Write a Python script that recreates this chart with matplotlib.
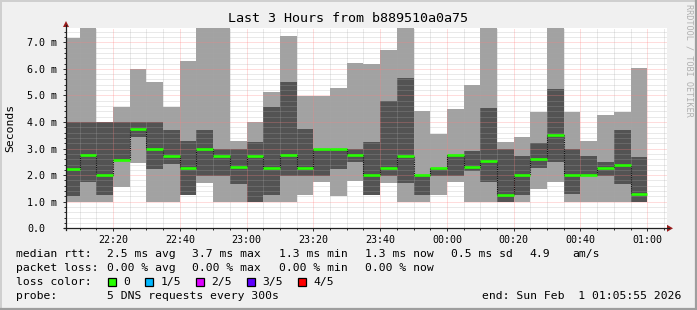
import numpy as np
import matplotlib
matplotlib.use("Agg")
import matplotlib.pyplot as plt
from matplotlib.patches import Rectangle, Polygon
from matplotlib.ticker import FixedLocator, MultipleLocator

W, H = 697, 310
MONO = "DejaVu Sans Mono"

# ---------------- data ----------------
view_start_label = "22:05:55"
view_end_label = "01:05:55"
bar_end_labels = ["22:10", "22:15", "22:20", "22:25", "22:30", "22:35", "22:40",
                  "22:45", "22:50", "22:55", "23:00", "23:05", "23:10", "23:15",
                  "23:20", "23:25", "23:30", "23:35", "23:40", "23:45", "23:50",
                  "23:55", "00:00", "00:05", "00:10", "00:15", "00:20", "00:25",
                  "00:30", "00:35", "00:40", "00:45", "00:50", "00:55", "01:00"]
# sorted ping values per 5-minute round (ms)
ping_max = [7.17, 8.00, 4.00, 4.58, 6.00, 5.51, 4.58, 6.30, 8.00, 8.00, 3.29, 4.00,
            5.13, 7.24, 4.99, 4.99, 5.27, 6.22, 6.18, 6.71, 8.00, 4.41, 3.56, 4.49,
            5.39, 8.00, 3.26, 3.44, 4.38, 8.00, 4.38, 3.29, 4.26, 4.38, 6.02]
ping_hi = [4.00, 4.00, 4.00, 4.00, 4.00, 4.00, 3.69, 3.29, 3.69, 2.98, 2.98, 3.24,
           4.57, 5.51, 3.74, 3.00, 3.00, 3.00, 3.25, 4.79, 5.64, 2.00, 2.26, 2.76,
           2.91, 4.53, 2.98, 2.72, 3.21, 5.24, 2.98, 2.72, 2.48, 3.70, 2.68]
ping_med = [2.23, 2.77, 1.99, 2.58, 3.73, 3.00, 2.71, 2.28, 3.00, 2.73, 2.30, 2.72,
            2.28, 2.76, 2.26, 3.00, 3.00, 2.76, 1.99, 2.28, 2.73, 1.99, 2.26, 2.75,
            2.30, 2.53, 1.25, 1.99, 2.60, 3.51, 1.99, 1.99, 2.26, 2.38, 1.30]
ping_lo = [1.22, 1.75, 1.25, 2.58, 3.44, 2.23, 2.43, 1.25, 1.97, 1.97, 1.67, 1.00,
           1.25, 1.97, 1.97, 1.97, 2.23, 2.50, 1.25, 1.97, 1.70, 1.25, 1.97, 1.97,
           2.17, 1.75, 1.00, 1.25, 2.28, 2.51, 1.30, 1.97, 1.97, 1.67, 1.00]
ping_min = [1.00, 1.00, 1.00, 1.55, 2.46, 1.00, 1.00, 1.25, 1.70, 1.00, 1.00, 1.00,
            1.00, 1.00, 1.25, 1.75, 1.22, 1.78, 1.25, 1.70, 1.00, 1.00, 1.25, 1.75,
            1.00, 1.00, 1.00, 1.00, 1.48, 1.75, 1.00, 1.00, 1.00, 1.00, 1.00]

x_tick_labels = ["22:20", "22:40", "23:00", "23:20", "23:40", "00:00", "00:20", "00:40", "01:00"]
y_tick_values = [0, 1, 2, 3, 4, 5, 6, 7]
y_tick_labels = ["0.0", "1.0 m", "2.0 m", "3.0 m", "4.0 m", "5.0 m", "6.0 m", "7.0 m"]

title = "Last 3 Hours from b889510a0a75"
y_label = "Seconds"
legend_rows = [
    [("median rtt:", 16), ("2.5 ms avg", 106.7), ("3.7 ms max", 192.4), ("1.3 ms min", 279),
     ("1.3 ms now", 365), ("0.5 ms sd", 451), ("4.9", 529), ("am/s", 572)],
    [("packet loss:", 16), ("0.00 % avg", 106.7), ("0.00 % max", 192.4), ("0.00 % min", 279),
     ("0.00 % now", 365)],
]
loss_labels = ["0", "1/5", "2/5", "3/5", "4/5"]
loss_colors = ["#26ff00", "#00b8ff", "#dd00ff", "#5e00ff", "#ff0000"]
probe_text = "5 DNS requests every 300s"
end_text = "end: Sun Feb  1 01:05:55 2026"


def to_min(lbl):
    parts = [int(p) for p in lbl.split(":")]
    h, m = parts[0], parts[1]
    s = parts[2] if len(parts) > 2 else 0
    if h < 12:
        h += 24
    return (h - 22) * 60 + m + s / 60.0


x0 = to_min(view_start_label)
x1 = to_min(view_end_label)
ends = np.array([to_min(l) for l in bar_end_labels])
starts = np.concatenate([[x0], ends[:-1]])
widths = ends - starts

# ---------------- figure ----------------
fig = plt.figure(figsize=(W / 100, H / 100), dpi=100)
fig.patch.set_facecolor("#f0f0f0")

left_px, right_px, top_px, bot_px = 66, 667, 28, 228.3
ax = fig.add_axes([left_px / W, (H - bot_px) / H, (right_px - left_px) / W, (bot_px - top_px) / H])
ax.set_facecolor("white")
ax.set_xlim(x0, x1)
ax.set_ylim(0, (bot_px - top_px) / ((bot_px - 42.3) / 7.0))

light = "#a2a2a2"
dark = "#535353"
pmax = np.array(ping_max); phi = np.array(ping_hi); pmed = np.array(ping_med)
plo = np.array(ping_lo); pmin = np.array(ping_min)
ax.bar(starts, pmax - pmin, width=widths, bottom=pmin, align="edge", color=light,
       linewidth=0, zorder=1)
ax.bar(starts, phi - plo, width=widths, bottom=plo, align="edge", color=dark,
       linewidth=0, zorder=1.1)

# median: dotted dark step line + green segments
step_x = np.concatenate([starts, [ends[-1]]])
step_y = np.concatenate([pmed, [pmed[-1]]])
ax.step(step_x, step_y, where="post", color="#101010", lw=0.8,
        linestyle=(0, (1, 1)), zorder=3)
ax.hlines(pmed, starts, ends, colors=loss_colors[0], lw=1.9, zorder=3.2)

# grid
ax.set_axisbelow(False)
ax.xaxis.set_major_locator(FixedLocator([to_min(l) for l in x_tick_labels]))
ax.set_xticklabels(x_tick_labels)
ax.xaxis.set_minor_locator(FixedLocator(np.arange(10, x1, 5)))
ax.yaxis.set_major_locator(FixedLocator(y_tick_values))
ax.set_yticklabels(y_tick_labels)
ax.yaxis.set_minor_locator(MultipleLocator(0.2))
ax.grid(which="major", color="#ff8080", alpha=0.55, lw=0.72, linestyle=(0, (1, 1)))
ax.grid(which="minor", color="#a8a8a8", alpha=0.5, lw=0.72, linestyle=(0, (1, 1)))
for sp in ax.spines.values():
    sp.set_visible(False)
ax.tick_params(which="major", direction="out", length=2.5, width=0.72, color="#303030",
               labelsize=7.2, labelcolor="#000000")
ax.tick_params(which="minor", direction="out", length=1.6, width=0.72, color="#303030")
ax.tick_params(axis="x", which="major", pad=2.2)
ax.tick_params(axis="y", which="major", pad=25.5)
for t in ax.get_xticklabels() + ax.get_yticklabels():
    t.set_fontfamily(MONO)
for t in ax.get_yticklabels():
    t.set_horizontalalignment("left")

# ---------------- overlay (pixel coordinates) ----------------
ov = fig.add_axes([0, 0, 1, 1])
ov.set_xlim(0, W)
ov.set_ylim(H, 0)
ov.axis("off")
ov.patch.set_alpha(0)

# frame shading
ov.plot([0.5, W - 0.5], [0.5, 0.5], color="#cfcfcf", lw=1.4)
ov.plot([0.5, 0.5], [0.5, H - 0.5], color="#cfcfcf", lw=1.4)
ov.plot([0, W], [H - 1, H - 1], color="#9e9e9e", lw=1.6)
ov.plot([W - 1, W - 1], [0, H], color="#9e9e9e", lw=1.6)

# axes lines with arrows
axis_col = "#202020"
ov.plot([left_px, left_px], [bot_px + 2, top_px - 3], color=axis_col, lw=0.9)
ov.plot([left_px - 2, right_px + 2], [bot_px, bot_px], color=axis_col, lw=0.9)
arrow_col = "#9b1c1c"
ov.add_patch(Polygon([[left_px - 3, top_px - 1], [left_px + 3, top_px - 1], [left_px, top_px - 7]],
                     closed=True, color=arrow_col, lw=0))
ov.add_patch(Polygon([[right_px, bot_px - 3.5], [right_px, bot_px + 3.5], [right_px + 6, bot_px]],
                     closed=True, color=arrow_col, lw=0))

# title, y label, watermark
ov.text(348, 19, title, ha="center", va="center", fontsize=9.6, family=MONO, color="#000000")
ov.text(10.5, (top_px + bot_px) / 2, y_label, ha="center", va="center", rotation=90,
        fontsize=8.2, family=MONO, color="#000000")
ov.text(688.5, 4, "RRDTOOL / TOBI OETIKER", ha="center", va="top", rotation=270,
        fontsize=6.1, family=MONO, color="#b0b0b0")

# legend
row_y = [254, 268, 282, 296]
for r, items in enumerate(legend_rows):
    for txt, xx in items:
        ov.text(xx, row_y[r], txt, ha="left", va="center", fontsize=8.2, family=MONO, color="#000000")

ov.text(16, row_y[2], "loss color:", ha="left", va="center", fontsize=8.2, family=MONO)
box_x = [108, 145.3, 196, 246.7, 297.8]
lab_x = [123.6, 161, 211.6, 262, 313.3]
for bx, lx, lab, col in zip(box_x, lab_x, loss_labels, loss_colors):
    ov.add_patch(Rectangle((bx, row_y[2] - 4.3), 8, 8.6, facecolor=col, edgecolor="#000000", lw=0.9))
    ov.text(lx, row_y[2], lab, ha="left", va="center", fontsize=8.2, family=MONO)

ov.text(16, row_y[3], "probe:", ha="left", va="center", fontsize=8.2, family=MONO)
ov.text(106.7, row_y[3], probe_text, ha="left", va="center", fontsize=8.2, family=MONO)
ov.text(681, row_y[3], end_text, ha="right", va="center", fontsize=8.2, family=MONO)

fig.savefig("out.png", dpi=100, facecolor=fig.get_facecolor())
